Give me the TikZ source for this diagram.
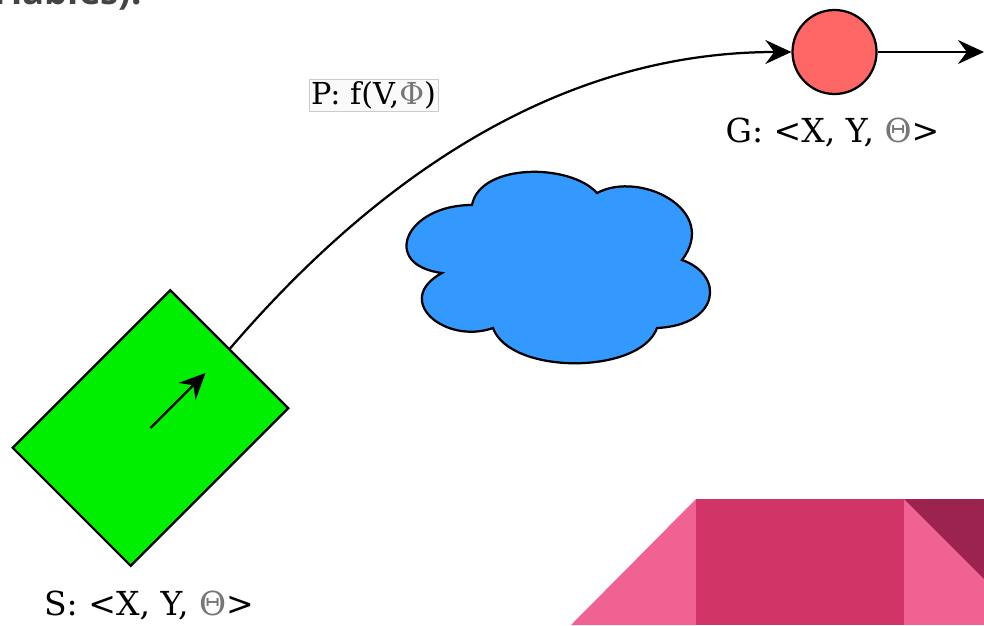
\documentclass[tikz,border=0pt]{standalone}
\usepackage{fontspec}
\setmainfont{DejaVu Serif}
\newfontfamily\headfont{Open Sans}
\usetikzlibrary{arrows.meta, positioning, calc}
\definecolor{cRobot}{HTML}{00EE00}
\definecolor{cGoal}{HTML}{FF6666}
\definecolor{cObst}{HTML}{3399FF}
\definecolor{cPinkL}{HTML}{F06292}
\definecolor{cPinkM}{HTML}{D13467}
\definecolor{cPinkD}{HTML}{9C2250}
\definecolor{cHead}{HTML}{444444}
\definecolor{cGrey}{HTML}{777777}
\definecolor{cBox}{HTML}{CCCCCC}

\begin{document}
\begin{tikzpicture}[
    x=0.025cm, y=-0.025cm,
    lbl/.style={font=\fontsize{23.5}{28}\selectfont, inner sep=2pt},
    ar/.style={-{Stealth[length=6.5mm,width=6mm,inset=2.2mm]}, line width=1.6pt},
    robot/.style={draw, fill=cRobot, line width=1.6pt, inner sep=0pt,
                  minimum width=5.57cm, minimum height=4.17cm, rotate=45},
    goalnd/.style={circle, draw, fill=cGoal, line width=1.6pt, inner sep=0pt,
                   minimum size=2.1cm},
    pbox/.style={font=\fontsize{21.5}{26}\selectfont, draw=cBox, fill=black!2,
                 line width=0.5pt, inner sep=1.5pt},
]
\clip (0,0) rectangle (984,625);

% === slide title, cut off at the top ===
\node[anchor=base east, inner sep=0pt, text=cHead,
      font=\headfont\bfseries\fontsize{26}{30}\selectfont] (title) at (142,4) {riables).};

% === slide decoration, bottom right ===
\fill[cPinkL] (571,625) -- (696,499) -- (696,625) -- cycle;
\fill[cPinkM] (696,499) rectangle (904,625);
\fill[cPinkL] (904,499) rectangle (984,625);
\fill[cPinkD] (904,499) -- (984,499) -- (984,579) -- cycle;

% === start pose ===
\node[robot] (start) at (150.5,428) {};
\coordinate (head) at ($(start.center)+(55,-55)$);
\draw[ar] (start.center) -- (head);
\node[lbl] (slbl) at (149,605) {S: <X, Y, \textcolor{cGrey}{Θ}>};

% === goal pose ===
\node[goalnd] (goal) at (834.5,52) {};
\node[lbl] (glbl) at (832.5,132) {G: <X, Y, \textcolor{cGrey}{Θ}>};
\coordinate (gout) at (984,52);
\draw[ar] (goal.east) -- (gout);

% === path ===
\draw[ar] (start.east) .. controls (360,197) and (543,52) .. (goal.west);
\node[pbox] (plbl) at (373.5,95.5) {P: f(V,\textcolor{cGrey}{Φ})};

% === obstacle ===
\draw[fill=cObst, line width=1.6pt]
    (472,205) .. controls (480,163) and (570,163) .. (597,193)
              .. controls (640,170) and (720,210) .. (682,260)
              .. controls (725,275) and (720,325) .. (657,328)
              .. controls (640,375) and (510,375) .. (493,328)
              .. controls (445,345) and (392,300) .. (442,273)
              .. controls (380,265) and (405,205) .. cycle;

\end{tikzpicture}
\end{document}
